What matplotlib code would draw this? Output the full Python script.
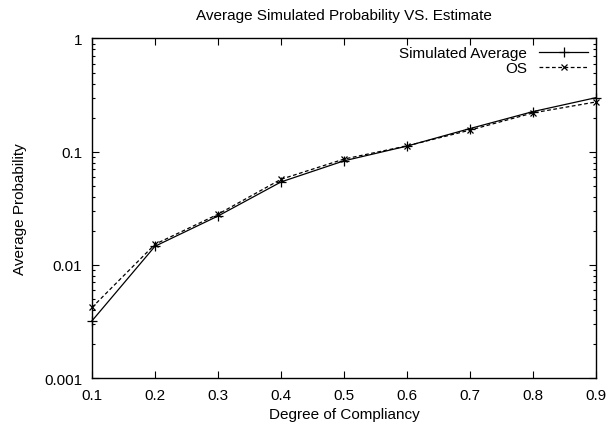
import matplotlib
matplotlib.use("Agg")
import matplotlib.pyplot as plt
import numpy as np

plt.rcParams['font.family'] = ['Liberation Sans', 'DejaVu Sans']

compliancy = [0.1, 0.2, 0.3, 0.4, 0.5, 0.6, 0.7, 0.8, 0.9]
sim_avg = [0.0032, 0.0146, 0.0270, 0.0540, 0.0830, 0.1120, 0.1600, 0.2260, 0.3000]
os_est = [0.0042, 0.0152, 0.0280, 0.0570, 0.0860, 0.1125, 0.1550, 0.2200, 0.2750]

fig = plt.figure(figsize=(6.06, 4.31), dpi=100)
ax = fig.add_axes([0.1518, 0.1206, 0.8317, 0.7878])

ax.plot(compliancy, sim_avg, color='black', linestyle='-', linewidth=0.9,
        marker='+', markersize=7, markeredgewidth=0.9, label='Simulated Average',
        clip_on=False)
ax.plot(compliancy, os_est, color='black', linestyle=(0, (3, 2)), linewidth=0.9,
        marker='x', markersize=5, markeredgewidth=0.9, label='OS', clip_on=False)

ax.set_yscale('log')
ax.set_xlim(0.1, 0.9)
ax.set_ylim(0.001, 1)
ax.set_xticks(compliancy)
ax.set_xticklabels(['0.1', '0.2', '0.3', '0.4', '0.5', '0.6', '0.7', '0.8', '0.9'])
ax.set_yticks([0.001, 0.01, 0.1, 1])
ax.set_yticklabels(['0.001', '0.01', '0.1', '1'])

ax.tick_params(which='both', direction='in', top=True, right=True, labelsize=11)
ax.tick_params(axis='x', pad=7)
ax.tick_params(axis='y', pad=7)
ax.tick_params(which='major', length=5, width=0.8)
ax.tick_params(which='minor', length=2.5, width=0.8)
for s in ax.spines.values():
    s.set_linewidth(1.0)

ax.set_title('Average Simulated Probability VS. Estimate', fontsize=11, pad=14)
ax.set_xlabel('Degree of Compliancy', fontsize=11, labelpad=4)
ax.set_ylabel('Average Probability', fontsize=11, labelpad=12)

ax.legend(loc='upper right', frameon=False, markerfirst=False, fontsize=11,
          handlelength=3.2, borderaxespad=0.3, borderpad=0.2, labelspacing=0.05,
          handletextpad=0.8)

plt.savefig('out.png', dpi=100)
